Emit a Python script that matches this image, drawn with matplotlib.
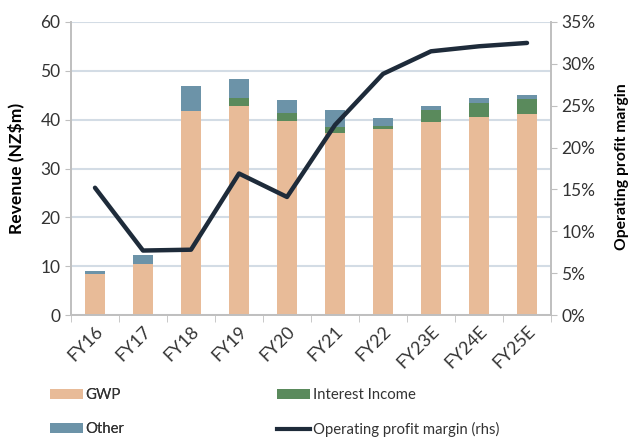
import matplotlib
matplotlib.use("Agg")
import matplotlib.pyplot as plt
from matplotlib.patches import Patch
from matplotlib.lines import Line2D
from matplotlib.ticker import FuncFormatter
import numpy as np

years = ["FY16", "FY17", "FY18", "FY19", "FY20", "FY21", "FY22", "FY23E", "FY24E", "FY25E"]
gwp = [8.3, 10.4, 41.7, 42.8, 39.7, 37.2, 38.1, 39.5, 40.5, 41.1]
interest_income = [0.0, 0.0, 0.0, 1.6, 1.6, 1.3, 0.6, 2.4, 2.9, 3.1]
other = [0.8, 1.8, 5.1, 3.9, 2.7, 3.4, 1.6, 0.9, 1.0, 0.9]
op_margin = [15.2, 7.7, 7.8, 16.9, 14.1, 22.7, 28.8, 31.5, 32.1, 32.5]

c_gwp = "#E8BB98"
c_int = "#5A8A5C"
c_oth = "#6C93A8"
c_line = "#1E2B3A"
c_grid = "#D3DCE5"
c_spine = "#BFBFBF"
c_text = "#333333"

plt.rcParams["font.family"] = ["Lato", "DejaVu Sans"]

W, H = 629, 437
fig = plt.figure(figsize=(W / 100, H / 100), dpi=100)
ax = fig.add_axes([71 / W, 1 - 315 / H, 480 / W, 293 / H])
ax2 = ax.twinx()

x = np.arange(len(years))
w = 0.4
b1 = np.array(gwp)
b2 = b1 + np.array(interest_income)
ax.bar(x, gwp, w, color=c_gwp, zorder=2)
ax.bar(x, interest_income, w, bottom=b1, color=c_int, zorder=2)
ax.bar(x, other, w, bottom=b2, color=c_oth, zorder=2)

ax.set_xlim(-0.5, len(years) - 0.5)
ax.set_ylim(0, 60)
ax.set_yticks(range(0, 61, 10))
ax.yaxis.grid(True, color=c_grid, linewidth=1.5, zorder=0)
ax.set_axisbelow(True)

ax.set_xticks(x)
ax.set_xticklabels(years, rotation=45, ha="right", rotation_mode="anchor", fontsize=12.8, color=c_text)
ax.set_xticks(np.arange(-0.5, len(years), 1), minor=True)
ax.tick_params(axis="x", which="major", length=0, pad=6)
ax.tick_params(axis="x", which="minor", length=5, color=c_spine)
ax.tick_params(axis="y", length=4, color=c_spine, labelsize=12.5, labelcolor=c_text)
ax.set_ylabel("Revenue (NZ$m)", fontsize=12.6, fontweight="bold", color="black")
ax.yaxis.set_label_coords(-46 / 480, 0.5)

ax2.plot(x, op_margin, color=c_line, linewidth=3.2, solid_capstyle="round", zorder=5)
ax2.set_ylim(0, 35)
ax2.set_yticks(range(0, 36, 5))
ax2.yaxis.set_major_formatter(FuncFormatter(lambda v, p: f"{v:.0f}%"))
ax2.tick_params(axis="y", length=4, color=c_spine, labelsize=12.5, labelcolor=c_text)
ax2.set_ylabel("Operating profit margin", fontsize=11.3, fontweight="bold", color="black")
ax2.yaxis.set_label_coords(1 + 64 / 480, 0.505)

for a in (ax, ax2):
    a.spines["top"].set_visible(False)
    for s in ("left", "right", "bottom"):
        a.spines[s].set_color(c_spine)
        a.spines[s].set_linewidth(1.2)

legend_kw = dict(loc="upper left", frameon=False, fontsize=10.7, handlelength=2.2,
                 handleheight=0.7, handletextpad=0.2, labelspacing=1.35,
                 borderpad=0, borderaxespad=0, labelcolor=c_text)
col1 = [Patch(facecolor=c_gwp, label="GWP"),
        Patch(facecolor=c_oth, label="Other")]
col2 = [Patch(facecolor=c_int, label="Interest Income"),
        Line2D([0], [0], color=c_line, linewidth=3, label="Operating profit margin (rhs)")]
leg1 = fig.legend(handles=col1, bbox_to_anchor=(50 / W, 1 - 388 / H), **legend_kw)
fig.add_artist(leg1)
fig.legend(handles=col2, bbox_to_anchor=(277 / W, 1 - 388 / H), **legend_kw)

fig.savefig("out.png", dpi=100)
